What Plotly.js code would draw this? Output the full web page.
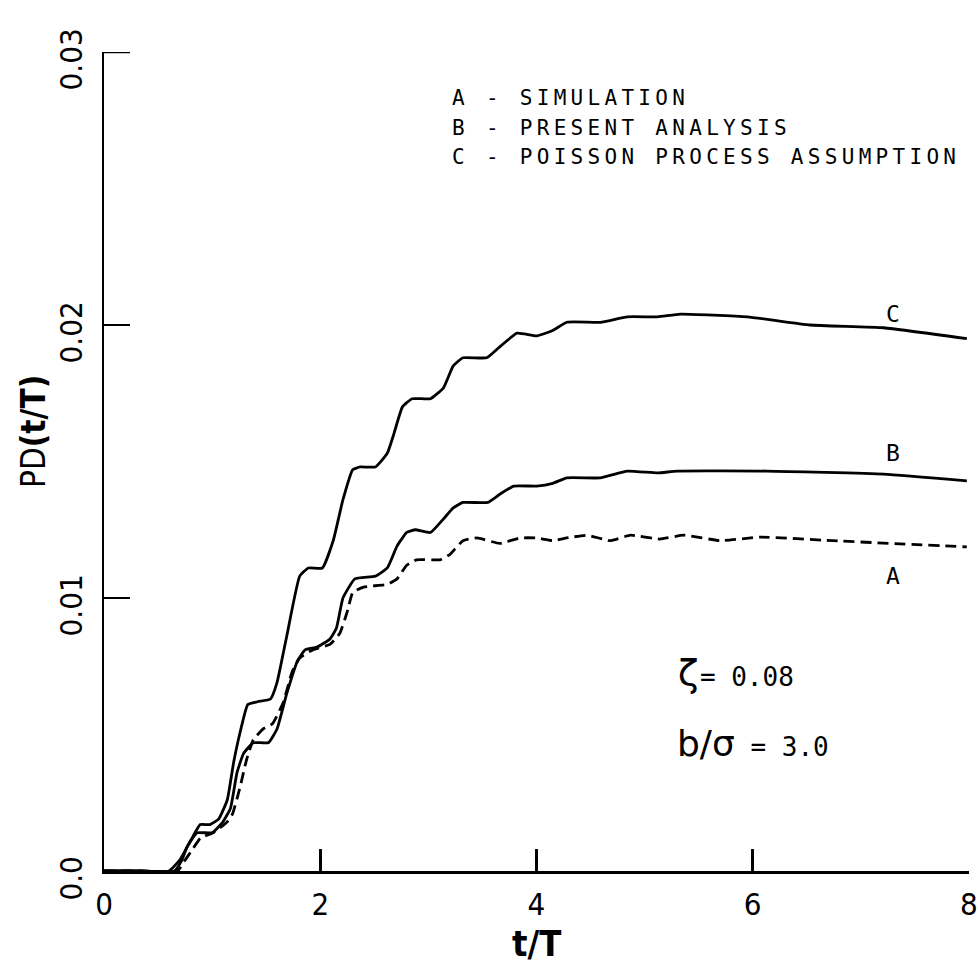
<!DOCTYPE html>
<html>
<head>
<meta charset="utf-8">
<script src="https://cdn.plot.ly/plotly-3.0.1.min.js"></script>
<style>html,body{margin:0;padding:0;background:#fff;}#chart{width:978px;height:968px;}</style>
</head>
<body>
<div id="chart"></div>
<script>
// Curve A - simulation (dashed)
var tA  = [0,0.34,0.68,0.75,0.82,0.89,1.01,1.14,1.19,1.26,1.32,1.38,1.47,1.56,1.66,1.74,1.81,1.93,2.09,2.18,2.25,2.30,2.40,2.62,2.71,2.80,2.89,3.11,3.20,3.32,3.45,3.66,3.85,4.00,4.15,4.28,4.47,4.68,4.87,5.14,5.36,5.70,6.07,6.74,7.98];
var pdA = [0,0,0,0.0004,0.0008,0.0012,0.0014,0.0018,0.0021,0.0031,0.0041,0.0048,0.0052,0.0054,0.0062,0.0073,0.0078,0.0081,0.0083,0.0087,0.0095,0.0102,0.0104,0.0105,0.0107,0.0112,0.0114,0.0114,0.0116,0.0121,0.0122,0.0120,0.0122,0.0122,0.0121,0.0122,0.0123,0.0121,0.0123,0.01216,0.0123,0.0121,0.01223,0.0121,0.01187];
// Curve B - present analysis
var tB  = [0,0.33,0.65,0.72,0.77,0.86,1.00,1.10,1.17,1.23,1.29,1.38,1.52,1.60,1.69,1.79,1.86,1.97,2.09,2.15,2.21,2.32,2.51,2.62,2.71,2.80,2.88,3.02,3.14,3.23,3.32,3.55,3.66,3.79,4.00,4.15,4.28,4.59,4.84,5.12,5.30,6.13,7.21,7.98];
var pdB = [0,0,0,0.0004,0.0009,0.0014,0.0014,0.0018,0.0023,0.0036,0.0043,0.0047,0.0047,0.0052,0.0065,0.0077,0.0081,0.0082,0.0085,0.0089,0.0100,0.0107,0.0108,0.0111,0.0119,0.0124,0.0125,0.0124,0.0129,0.0133,0.0135,0.0135,0.0138,0.0141,0.0141,0.0142,0.0144,0.0144,0.01465,0.01458,0.01465,0.01465,0.01454,0.01429];
// Curve C - Poisson process assumption
var tC  = [0,0.30,0.60,0.70,0.80,0.89,0.98,1.06,1.14,1.20,1.26,1.33,1.42,1.54,1.60,1.69,1.81,1.89,2.02,2.12,2.21,2.30,2.37,2.51,2.62,2.68,2.76,2.85,3.02,3.14,3.23,3.32,3.54,3.66,3.82,4.00,4.15,4.28,4.59,4.84,5.12,5.33,5.95,6.53,7.21,7.98];
var pdC = [0,0,0,0.0004,0.0011,0.0017,0.0017,0.0019,0.0026,0.0040,0.0051,0.0061,0.0062,0.0063,0.0069,0.0086,0.0108,0.0111,0.0111,0.0121,0.0136,0.0147,0.0148,0.0148,0.0153,0.0160,0.0170,0.0173,0.0173,0.0177,0.0185,0.0188,0.0188,0.0192,0.0197,0.0196,0.0198,0.0201,0.0201,0.0203,0.0203,0.0204,0.0203,0.0200,0.0199,0.0195];

var xTicks = [0,2,4,6,8];
var xTickText = ['0','2','4','6','8'];
var yTicks = [0,0.01,0.02,0.03];
var yTickText = ['0.0','0.01','0.02','0.03'];

var curveLabels = ['A','B','C'];
var curveLabelPos = [[7.3,0.0108],[7.3,0.0153],[7.3,0.0204]];
var legendLines = ['A - SIMULATION','B - PRESENT ANALYSIS','C - POISSON PROCESS ASSUMPTION'];

var monoFont = 'DejaVu Sans Mono, Liberation Mono, monospace';
var condFont = 'DejaVu Sans Condensed, DejaVu Sans, sans-serif';

var traces = [
  {x:tA, y:pdA, mode:'lines', line:{color:'#000', width:2.8, dash:'11px,6px', shape:'spline', smoothing:0.4}, showlegend:false, hoverinfo:'skip'},
  {x:tB, y:pdB, mode:'lines', line:{color:'#000', width:2.8, shape:'spline', smoothing:0.4}, showlegend:false, hoverinfo:'skip'},
  {x:tC, y:pdC, mode:'lines', line:{color:'#000', width:2.8, shape:'spline', smoothing:0.4}, showlegend:false, hoverinfo:'skip'}
];

var W=978,H=968,ml=104,mr=9,mt=52,mb=97;
function px(x){return (x-ml)/(W-ml-mr);}
function py(y){return 1-(y-mt)/(H-mt-mb);}

var annotations = [];
for (var i=0;i<curveLabels.length;i++){
  annotations.push({x:curveLabelPos[i][0], y:curveLabelPos[i][1], xref:'x', yref:'y', text:curveLabels[i], showarrow:false, font:{family:monoFont, size:23, color:'#000'}});
}
for (var j=0;j<legendLines.length;j++){
  annotations.push({x:px(450), y:py(98+j*29.5), xref:'paper', yref:'paper', text:'<span style="letter-spacing:4.3px">'+legendLines[j]+'</span>', showarrow:false, xanchor:'left', yanchor:'middle', font:{family:monoFont, size:21, color:'#000'}});
}
annotations.push({x:px(675), y:py(673), xref:'paper', yref:'paper', xanchor:'left', yanchor:'middle', showarrow:false,
  text:'<span style="font-size:38px">ζ</span>= 0.08', font:{family:monoFont, size:26, color:'#000'}});
annotations.push({x:px(675), y:py(743), xref:'paper', yref:'paper', xanchor:'left', yanchor:'middle', showarrow:false,
  text:'<span style="font-size:36px;font-family:DejaVu Sans">b/σ</span> = 3.0', font:{family:monoFont, size:26, color:'#000'}});
// axis titles placed as in the reference
annotations.push({x:px(33), y:py(432), xref:'paper', yref:'paper', xanchor:'center', yanchor:'middle', showarrow:false, textangle:-90,
  text:'PD<b>(t/T)</b>', font:{family:condFont, size:33, color:'#000'}});
annotations.push({x:px(536), y:py(944), xref:'paper', yref:'paper', xanchor:'center', yanchor:'middle', showarrow:false,
  text:'<b>t/T</b>', font:{family:condFont, size:36, color:'#000'}});

var layout = {
  width:W, height:H,
  margin:{l:ml, r:mr, t:mt, b:mb, pad:0},
  paper_bgcolor:'#fff', plot_bgcolor:'#fff',
  showlegend:false,
  xaxis:{range:[0,8.0001], tickvals:xTicks, ticktext:xTickText, ticks:'inside', ticklen:22, tickwidth:2.5, tickcolor:'#000',
    showline:true, linecolor:'#000', linewidth:2.5, showgrid:false, zeroline:false, mirror:false,
    ticklabelstandoff:4, ticklabeloverflow:'allow', tickfont:{family:condFont, size:31, color:'#000'}},
  yaxis:{range:[0,0.0300001], tickvals:yTicks, ticktext:yTickText, ticks:'inside', ticklen:26, tickwidth:2.5, tickcolor:'#000',
    showline:true, linecolor:'#000', linewidth:2.5, showgrid:false, zeroline:false, mirror:false,
    tickangle:-90, ticklabelstandoff:7, ticklabelshift:12, ticklabeloverflow:'allow', tickfont:{family:condFont, size:31, color:'#000'}},
  shapes:[{type:'line', xref:'paper', yref:'y', x0:0, x1:26/(W-ml-mr), y0:yTicks[3], y1:yTicks[3], line:{color:'#000', width:2.5}}],
  annotations:annotations
};

Plotly.newPlot('chart', traces, layout, {staticPlot:true, displayModeBar:false});
</script>
</body>
</html>
